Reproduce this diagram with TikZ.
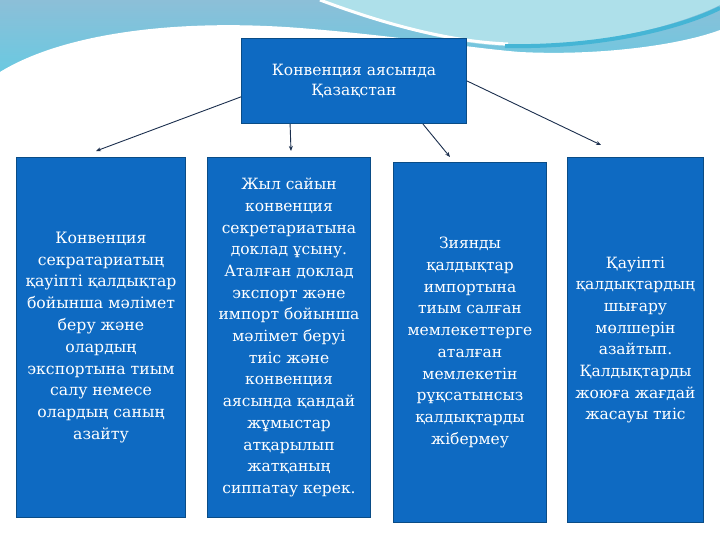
\documentclass[tikz,border=0pt]{standalone}
\usepackage{fontspec}
\setmainfont{DejaVu Serif}
\usetikzlibrary{arrows.meta}
\definecolor{boxblue}{HTML}{0E6AC2}
\definecolor{boxedge}{HTML}{0A4C86}
\definecolor{arrowc}{HTML}{1B2F4E}
\definecolor{skytop}{HTML}{8CBFD8}
\definecolor{skybot}{HTML}{66CAE2}
\definecolor{arclight}{HTML}{AEE0EA}
\definecolor{arcstripe}{HTML}{45B5D5}
\tikzset{
  panel/.style={rectangle, fill=boxblue, draw=boxedge, line width=1.2pt,
    text=white, align=center, inner sep=0pt,
    font={\fontsize{15.5}{21.7}\selectfont}},
  link/.style={draw=arrowc, line width=0.9pt, -{Stealth[length=5pt,width=4pt]}}
}
\begin{document}
\begin{tikzpicture}[x=1pt,y=-1pt]
\useasboundingbox (0,0) rectangle (720,540);
% background waves
\fill[white] (0,0) rectangle (720,540);
\shade[top color=skytop, bottom color=skybot] (0,0) rectangle (720,80);
\fill[arclight] (320,0) .. controls (400,30) and (460,46) .. (515,46)
  .. controls (600,46) and (680,25) .. (720,5) -- (720,0) -- cycle;
\fill[white] (0,80) -- (0,72) .. controls (60,35) and (170,18) .. (300,28)
  .. controls (400,36) and (470,48) .. (520,52)
  .. controls (600,56) and (680,45) .. (720,30) -- (720,80) -- cycle;
\draw[white, line width=3pt] (320,0) .. controls (400,30) and (460,42) .. (508,44);
\draw[arcstripe, line width=4pt] (505,46) .. controls (600,48) and (680,28) .. (720,8);
% nodes
\node[panel, minimum width=225pt, minimum height=85pt,
  font={\fontsize{15.5}{20}\selectfont}] (top) at (354,81)
  {Конвенция аясында\\Қазақстан};
\node[panel, minimum width=169pt, minimum height=360pt,
  font={\fontsize{15.7}{21.8}\selectfont}] (b1) at (101,337.5)
  {Конвенция\\секратариатың\\қауіпті қалдықтар\\бойынша мәлімет\\беру және\\олардың\\экспортына тиым\\салу немесе\\олардың саның\\азайту};
\node[panel, minimum width=163pt, minimum height=360pt] (b2) at (289,337.5)
  {Жыл сайын\\конвенция\\секретариатына\\доклад ұсыну.\\Аталған доклад\\экспорт және\\импорт бойынша\\мәлімет беруі\\тиіс және\\конвенция\\аясында қандай\\жұмыстар\\атқарылып\\жатқаның\\сиппатау керек.};
\node[panel, minimum width=153pt, minimum height=360pt] (b3) at (470,342.5)
  {Зиянды\\қалдықтар\\импортына\\тиым салған\\мемлекеттерге\\аталған\\мемлекетін\\рұқсатынсыз\\қалдықтарды\\жібермеу};
\node[panel, minimum width=136pt, minimum height=365pt] (b4) at (635.5,340)
  {Қауіпті\\қалдықтардың\\шығару\\мөлшерін\\азайтып.\\Қалдықтарды\\жоюға жағдай\\жасауы тиіс};
% arrow ends
\coordinate (e1) at (96,151);
\coordinate (e2) at (291,151);
\coordinate (e3) at (450,157);
\coordinate (e4) at (601,145);
\draw[link] (top.188) -- (e1);
\draw[link] (top.214) -- (e2);
\draw[link] (top.328) -- (e3);
\draw[link] (top.east) -- (e4);
\end{tikzpicture}
\end{document}
